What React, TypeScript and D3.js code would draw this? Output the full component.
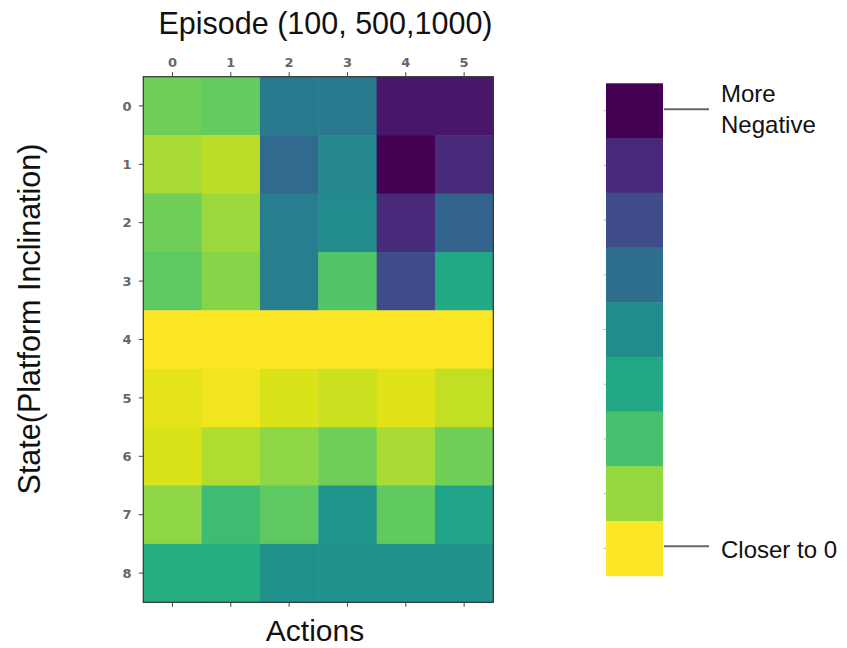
import React from "react";
import * as d3 from "d3";

// Episode columns (top axis) and state rows (left axis)
const columns = ["0", "1", "2", "3", "4", "5"];
const rows = ["0", "1", "2", "3", "4", "5", "6", "7", "8"];

// Normalised value per cell (0 = more negative, 1 = closer to 0)
const row0 = [0.78, 0.76, 0.41, 0.41, 0.06, 0.06];
const row1 = [0.87, 0.895, 0.34, 0.46, 0.0, 0.12];
const row2 = [0.78, 0.85, 0.42, 0.48, 0.12, 0.32];
const row3 = [0.75, 0.82, 0.42, 0.73, 0.23, 0.6];
const row4 = [1.0, 1.0, 1.0, 1.0, 1.0, 1.0];
const row5 = [0.96, 0.98, 0.945, 0.92, 0.95, 0.91];
const row6 = [0.945, 0.88, 0.83, 0.78, 0.87, 0.78];
const row7 = [0.83, 0.69, 0.75, 0.52, 0.755, 0.58];
const row8 = [0.62, 0.62, 0.5, 0.5, 0.5, 0.5];
const values = [row0, row1, row2, row3, row4, row5, row6, row7, row8];

// Colour-bar segment levels (top to bottom)
const legendLevels = [0.0, 0.11, 0.23, 0.36, 0.48, 0.6, 0.71, 0.84, 1.0];
const legendLabelsTop = ["More", "Negative"];
const legendLabelBottom = "Closer to 0";

const titleText = "Episode (100, 500,1000)";
const xLabel = "Actions";
const yLabel = "State(Platform Inclination)";

export default function App() {
  const W = 847;
  const H = 648;
  const hm = { left: 143.3, right: 493.3, top: 76.7, bottom: 602.3 };
  const x = d3.scaleBand<string>().domain(columns).range([hm.left, hm.right]).padding(0);
  const y = d3.scaleBand<string>().domain(rows).range([hm.top, hm.bottom]).padding(0);
  const color = (t: number) => d3.interpolateViridis(t);

  const cb = { left: 606, right: 663, top: 83.3, bottom: 575.7 };
  const cy = d3
    .scaleBand<number>()
    .domain(legendLevels.map((_, i) => i))
    .range([cb.top, cb.bottom])
    .padding(0);

  const tickFont = "'DejaVu Sans', sans-serif";
  const labelFont = "'Liberation Sans', Arial, sans-serif";
  const firstC = cy(0)! + cy.bandwidth() / 2;
  const lastC = cy(legendLevels.length - 1)! + cy.bandwidth() / 2;

  return (
    <svg
      width={W}
      height={H}
      style={{ position: "absolute", left: 0, top: 0, background: "#fff" }}
    >
      {/* cells */}
      {values.map((r, ri) =>
        r.map((v, ci) => (
          <rect
            key={`${ri}-${ci}`}
            x={x(columns[ci])}
            y={y(rows[ri])}
            width={x.bandwidth() + 0.5}
            height={y.bandwidth() + 0.5}
            fill={color(v)}
          />
        ))
      )}
      <rect
        x={hm.left}
        y={hm.top}
        width={hm.right - hm.left}
        height={hm.bottom - hm.top}
        fill="none"
        stroke="#333"
        strokeWidth={1.2}
      />
      {/* top ticks + labels */}
      {columns.map((c) => {
        const cx = x(c)! + x.bandwidth() / 2;
        return (
          <g key={`xt${c}`}>
            <line x1={cx} x2={cx} y1={hm.top} y2={hm.top - 4.5} stroke="#444" strokeWidth={1} />
            <line x1={cx} x2={cx} y1={hm.bottom} y2={hm.bottom + 4.5} stroke="#444" strokeWidth={1} />
            <text
              x={cx}
              y={66.5}
              textAnchor="middle"
              fontFamily={tickFont}
              fontSize={13}
              fontWeight="bold"
              fill="#666"
            >
              {c}
            </text>
          </g>
        );
      })}
      {/* left ticks + labels */}
      {rows.map((r) => {
        const ry = y(r)! + y.bandwidth() / 2;
        return (
          <g key={`yt${r}`}>
            <line x1={hm.left} x2={hm.left - 4.5} y1={ry} y2={ry} stroke="#444" strokeWidth={1} />
            <text
              x={131.5}
              y={ry}
              dy="0.36em"
              textAnchor="end"
              fontFamily={tickFont}
              fontSize={13}
              fontWeight="bold"
              fill="#666"
            >
              {r}
            </text>
          </g>
        );
      })}
      {/* title and axis labels */}
      <text x={325.5} y={34} textAnchor="middle" fontFamily={labelFont} fontSize={30.5} fill="#111">
        {titleText}
      </text>
      <text x={315} y={641} textAnchor="middle" fontFamily={labelFont} fontSize={30} fill="#111">
        {xLabel}
      </text>
      <text
        transform={`translate(40,319) rotate(-90)`}
        textAnchor="middle"
        fontFamily={labelFont}
        fontSize={30.5}
        fill="#111"
      >
        {yLabel}
      </text>
      {/* colour bar */}
      {legendLevels.map((t, i) => (
        <g key={`cb${i}`}>
          <rect
            x={cb.left}
            y={cy(i)}
            width={cb.right - cb.left}
            height={cy.bandwidth() + 0.5}
            fill={color(t)}
          />
          <line
            x1={cb.left - 2.5}
            x2={cb.left}
            y1={cy(i)! + cy.bandwidth() / 2}
            y2={cy(i)! + cy.bandwidth() / 2}
            stroke="#bbb"
            strokeWidth={1}
          />
        </g>
      ))}
      <line x1={664} x2={709} y1={firstC - 1.5} y2={firstC - 1.5} stroke="#666" strokeWidth={2} />
      <line x1={664} x2={709} y1={lastC - 2} y2={lastC - 2} stroke="#666" strokeWidth={2} />
      <text x={721} y={102} fontFamily={labelFont} fontSize={24} fill="#111">
        {legendLabelsTop[0]}
      </text>
      <text x={721} y={133} fontFamily={labelFont} fontSize={24} fill="#111">
        {legendLabelsTop[1]}
      </text>
      <text x={721} y={558} fontFamily={labelFont} fontSize={24} fill="#111">
        {legendLabelBottom}
      </text>
    </svg>
  );
}
